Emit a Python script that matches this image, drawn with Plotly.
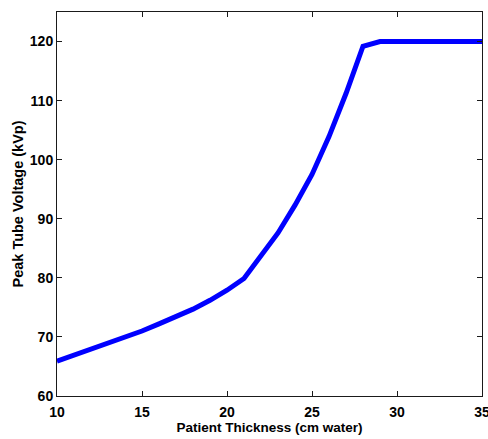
import plotly.graph_objects as go

thickness = [10, 11, 12, 13, 14, 15, 16, 17, 18, 19, 20, 21, 22, 23, 24, 25, 26, 27, 28, 29, 30, 31, 32, 33, 34, 35]
kvp = [65.9, 66.9, 67.9, 68.9, 69.9, 71.0, 72.2, 73.4, 74.7, 76.2, 77.9, 79.9, 83.6, 87.6, 92.3, 97.5, 103.9, 111.2, 119.2, 120, 120, 120, 120, 120, 120, 120]
x_ticks = [10, 15, 20, 25, 30, 35]
y_ticks = [60, 70, 80, 90, 100, 110, 120]

FONT = "Liberation Sans, Arial, Helvetica, sans-serif"

fig = go.Figure()
fig.add_trace(go.Scatter(
    x=thickness, y=kvp, mode="lines",
    line=dict(color="rgb(0,0,255)", width=5),
    showlegend=False, hoverinfo="skip",
))

axis_common = dict(
    showgrid=False, zeroline=False,
    showline=True, linecolor="#1a1a1a", linewidth=1,
    mirror="allticks", ticks="inside", ticklen=5, tickwidth=1, tickcolor="#1a1a1a",
    ticklabeloverflow="allow",
    automargin=False,
    tickfont=dict(family=FONT, size=14, color="black", weight="bold"),
)

fig.update_layout(
    width=488, height=439,
    margin=dict(l=57, r=6, t=12, b=43),
    paper_bgcolor="white", plot_bgcolor="white",
    xaxis=dict(
        range=[10, 35], tickvals=x_ticks, ticktext=[str(v) for v in x_ticks],
        ticklabelstandoff=3,
        title=dict(text="Patient Thickness (cm water)", standoff=3,
                   font=dict(family=FONT, size=13.5, color="black", weight="bold")),
        **axis_common,
    ),
    yaxis=dict(
        range=[60, 125], tickvals=y_ticks, ticktext=[str(v) for v in y_ticks],
        title=dict(text="Peak Tube Voltage (kVp)", standoff=2,
                   font=dict(family=FONT, size=14.5, color="black", weight="bold")),
        **axis_common,
    ),
)

fig.write_html(
    "out.html",
    config={"displayModeBar": False},
    post_script="document.body.style.margin='0';document.body.style.overflow='hidden';",
)
